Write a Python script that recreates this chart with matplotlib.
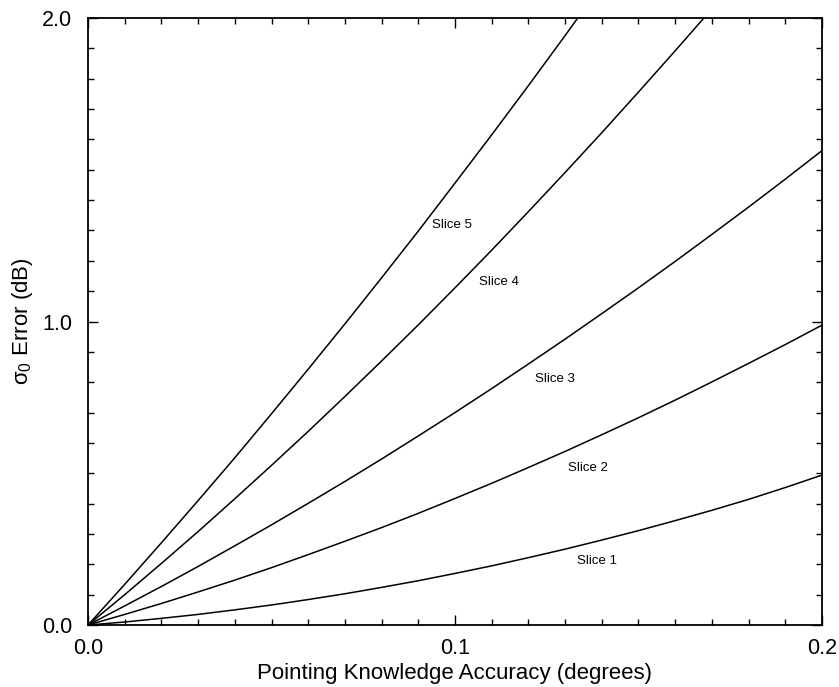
import numpy as np
import matplotlib.pyplot as plt
from matplotlib.ticker import MultipleLocator, FormatStrFormatter

plt.rcParams['font.family'] = ['Liberation Sans', 'DejaVu Sans']
plt.rcParams['mathtext.default'] = 'regular'

# pointing knowledge accuracy (degrees)
x = [0.00, 0.01, 0.02, 0.03, 0.04, 0.05, 0.06, 0.07, 0.08, 0.09, 0.10,
     0.11, 0.12, 0.13, 0.14, 0.15, 0.16, 0.17, 0.18, 0.19, 0.20]

# sigma0 error (dB) per slice
slice1 = [0.000, 0.010, 0.022, 0.035, 0.050, 0.066, 0.084, 0.103, 0.124, 0.146, 0.170,
          0.195, 0.222, 0.250, 0.280, 0.311, 0.344, 0.378, 0.414, 0.453, 0.494]
slice2 = [0.000, 0.035, 0.071, 0.109, 0.148, 0.189, 0.232, 0.276, 0.321, 0.368, 0.417,
          0.467, 0.519, 0.572, 0.627, 0.683, 0.741, 0.801, 0.862, 0.924, 0.988]
slice3 = [0.000, 0.063, 0.127, 0.193, 0.261, 0.330, 0.401, 0.473, 0.547, 0.623, 0.700,
          0.779, 0.860, 0.942, 1.026, 1.111, 1.198, 1.287, 1.377, 1.469, 1.563]
slice4 = [0.000, 0.100, 0.203, 0.308, 0.416, 0.526, 0.638, 0.753, 0.870, 0.989, 1.111,
          1.235, 1.362, 1.491, 1.622, 1.756, 1.892, 2.030]
slice5 = [0.000, 0.134, 0.271, 0.410, 0.551, 0.696, 0.843, 0.992, 1.144, 1.298, 1.456,
          1.615, 1.777, 1.942, 2.110]

series = [slice1, slice2, slice3, slice4, slice5]
labels = ['Slice 1', 'Slice 2', 'Slice 3', 'Slice 4', 'Slice 5']
label_pos = [(0.1387, 0.211), (0.1362, 0.517), (0.1272, 0.811), (0.1120, 1.130), (0.0992, 1.318)]

fig = plt.figure(figsize=(8.39, 6.87), dpi=100)
ax = fig.add_axes([0.1049, 0.0902, 0.8748, 0.8836])

for ys, name, (lx, ly) in zip(series, labels, label_pos):
    ax.plot(x[:len(ys)], ys, color='black', linewidth=1.1)
    ax.text(lx, ly, name, ha='center', va='center', fontsize=9.5)

ax.set_xlim(0, 0.2)
ax.set_ylim(0, 2.0)
ax.xaxis.set_major_locator(MultipleLocator(0.1))
ax.xaxis.set_minor_locator(MultipleLocator(0.01))
ax.yaxis.set_major_locator(MultipleLocator(1.0))
ax.yaxis.set_minor_locator(MultipleLocator(0.1))
ax.xaxis.set_major_formatter(FormatStrFormatter('%.1f'))
ax.yaxis.set_major_formatter(FormatStrFormatter('%.1f'))
ax.tick_params(which='both', direction='in', top=True, right=True, width=1)
ax.tick_params(which='major', length=7, labelsize=15.5)
ax.tick_params(axis='x', which='major', pad=9)
ax.tick_params(axis='y', which='major', pad=11.5)
ax.tick_params(which='minor', length=4)
for s in ax.spines.values():
    s.set_linewidth(1.3)

ax.set_xlabel('Pointing Knowledge Accuracy (degrees)', fontsize=16, labelpad=3)
ax.set_ylabel(r'σ$_0$ Error (dB)', fontsize=16, labelpad=5)

fig.savefig('out.png', dpi=100)
